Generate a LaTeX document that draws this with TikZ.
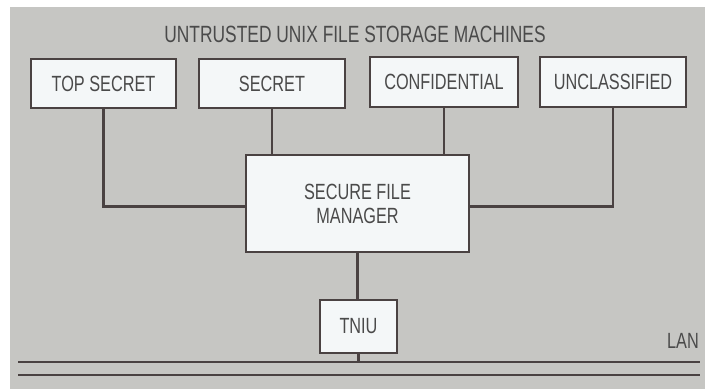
\documentclass[tikz,border=0pt]{standalone}
\usepackage{fontspec}
\setmainfont{Liberation Sans}[FakeStretch=0.74]
\usepackage{xcolor}
\usepackage{tikz}

\definecolor{paper}{HTML}{C6C6C3}
\definecolor{boxfill}{HTML}{F4F7F8}
\definecolor{ink}{HTML}{4A4242}
\definecolor{txt}{HTML}{4A4A4A}

\tikzset{
  machine/.style={draw=ink,line width=2.4pt,fill=boxfill,rectangle,inner sep=0pt,
    text=txt,font=\fontsize{22}{24}\selectfont},
  wire/.style={draw=ink,line width=2.4pt},
  caption/.style={text=txt,font=\fontsize{22}{24}\selectfont,inner sep=0pt}
}

\begin{document}
\begin{tikzpicture}[x=1pt,y=-1pt]
        \useasboundingbox (0,0) rectangle (705,389);
        \fill[paper] (10,7) rectangle (705,389);

        \node[caption,font=\fontsize{23.5}{26}\selectfont] (title) at (355,34) {UNTRUSTED UNIX FILE STORAGE MACHINES};

        \node[machine,minimum width=145pt,minimum height=49pt] (topsecret) at (103.5,83.5) {TOP SECRET};
        \node[machine,minimum width=146pt,minimum height=49pt] (secret) at (272,83.5) {SECRET};
        \node[machine,minimum width=148pt,minimum height=50pt] (confidential) at (444,82) {CONFIDENTIAL};
        \node[machine,minimum width=146pt,minimum height=50pt] (unclassified) at (613,82) {UNCLASSIFIED};

        \node[machine,minimum width=223pt,minimum height=97pt,align=center] (sfm) at (357.5,203.5)
            {SECURE FILE\\MANAGER};
        \node[machine,minimum width=77pt,minimum height=53pt] (tniu) at (358.5,326.5) {TNIU};

        \node[caption] (lan) at (683,341) {LAN};
        \coordinate (lanleft) at (18,362);
        \coordinate (lanright) at (700,362);
        \coordinate (lanleftb) at (18,375);
        \coordinate (lanrightb) at (700,375);

        \draw[wire] (topsecret.south) |- ([yshift=-3pt]sfm.west);
        \draw[wire] (secret.south) -- (secret.south |- sfm.north);
        \draw[wire] (confidential.south) -- (confidential.south |- sfm.north);
        \draw[wire] (unclassified.south) |- ([yshift=-3pt]sfm.east);
        \draw[wire] (sfm.south) -- (sfm.south |- tniu.north);
        \draw[wire] (tniu.south) -- (tniu.south |- lanleft);

        \draw[wire,line width=2pt] (lanleft) -- (lanright);
        \draw[wire,line width=2pt] (lanleftb) -- (lanrightb);
\end{tikzpicture}
\end{document}
